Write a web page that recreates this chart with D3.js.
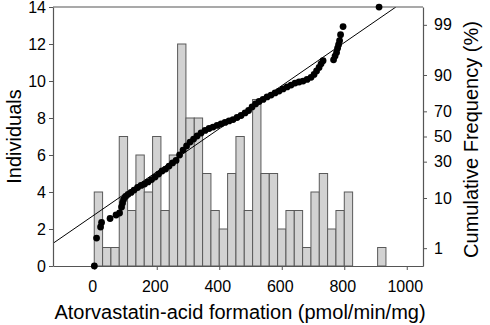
<!DOCTYPE html>
<html>
    <head>
        <meta charset="UTF-8"/>
        <style>
            body { margin: 0; background: #fff; }
            text { font-family: "Liberation Sans", Arial, sans-serif; fill: #000; }
        </style>
    </head>
    <body>
        <script src="https://d3js.org/d3.v7.min.js" type="text/javascript"></script>
        <script>
            // histogram: counts per bin, bins start at 0 and are binWidth wide
            var binStart = 0;
            var binWidth = 26.67;
            var counts = [4, 1, 1, 7, 3, 6, 4, 7, 3, 6, 12, 8, 8, 5, 3, 2, 5, 7, 3, 9,
                          5, 5, 2, 3, 3, 1, 4, 5, 2, 3, 4, 0, 0, 0, 1];

            // cumulative frequency points: activity and cumulative %
            var cumX = [0.3, 7.4, 20.2, 23.4, 50.6, 69.8, 81, 87.4, 90.6, 93.8,
                        100.2, 108.2, 117.8, 127.4, 138.6, 149.8, 161, 172.2, 183.4, 194.6,
                        205.8, 217, 228.2, 239.4, 250.6, 261.8, 273, 284.2, 295.4, 306.6,
                        317.8, 329, 341.8, 354.6, 367.4, 380.2, 393, 405.8, 418.6, 431.4,
                        444.2, 457, 469.8, 482.6, 493.8, 505, 516.2, 527.4, 540.2, 553,
                        565.8, 578.6, 591.4, 604.2, 617, 629.8, 642.6, 655.4, 668.2, 681,
                        693.8, 703.4, 711.4, 719.4, 725.8, 732.2, 765.8, 770.6, 775.4, 778.6,
                        781.8, 785, 788.2, 796.2, 911.4];
            var cumPct = [0.35, 1.72, 2.97, 3.66, 4.38, 5.10, 5.55, 7.09, 8.30, 9.47,
                          10.6, 11.4, 12.2, 13.2, 14.4, 15.4, 16.1, 17.2, 18.5, 19.9,
                          21.7, 23.6, 24.9, 26.9, 29.1, 30.9, 35.0, 38.9, 42.2, 45.4,
                          47.9, 50.4, 52.9, 55.0, 56.6, 57.8, 59.1, 60.3, 61.5, 62.7,
                          63.8, 65.4, 66.9, 68.8, 70.6, 73.1, 75.1, 76.7, 78.0, 79.5,
                          80.6, 81.8, 82.8, 83.9, 84.9, 85.8, 86.7, 87.2, 87.6, 88.3,
                          89.1, 90.2, 91.4, 92.5, 93.5, 94.3, 94.5, 95.3, 96.0, 96.7,
                          97.2, 97.7, 98.3, 98.9, 99.65];

            // fitted normal line, two end points (activity, cumulative %)
            var fitX = [-132, 965];
            var fitPct = [1.30, 99.65];

            var xTicks = [0, 200, 400, 600, 800, 1000];
            var yTicks = [0, 2, 4, 6, 8, 10, 12, 14];
            var pTicks = [1, 10, 30, 50, 70, 90, 99];

            var width = 490;
            var height = 325;
            var plotL = 53, plotR = 423, plotT = 7, plotB = 266;

            // inverse normal cdf (Acklam)
            function probit(p) {
                var a = [-39.69683028665376, 220.9460984245205, -275.9285104469687, 138.3577518672690, -30.66479806614716, 2.506628277459239];
                var b = [-54.47609879822406, 161.5858368580409, -155.6989798598866, 66.80131188771972, -13.28068155288572];
                var c = [-0.007784894002430293, -0.3223964580411365, -2.400758277161838, -2.549732539343734, 4.374664141464968, 2.938163982698783];
                var d = [0.007784695709041462, 0.3224671290700398, 2.445134137142996, 3.754408661907416];
                var q, r;
                if (p < 0.02425) {
                    q = Math.sqrt(-2 * Math.log(p));
                    return (((((c[0]*q+c[1])*q+c[2])*q+c[3])*q+c[4])*q+c[5]) / ((((d[0]*q+d[1])*q+d[2])*q+d[3])*q+1);
                }
                if (p > 1 - 0.02425) {
                    q = Math.sqrt(-2 * Math.log(1 - p));
                    return -(((((c[0]*q+c[1])*q+c[2])*q+c[3])*q+c[4])*q+c[5]) / ((((d[0]*q+d[1])*q+d[2])*q+d[3])*q+1);
                }
                q = p - 0.5; r = q * q;
                return (((((a[0]*r+a[1])*r+a[2])*r+a[3])*r+a[4])*r+a[5])*q / (((((b[0]*r+b[1])*r+b[2])*r+b[3])*r+b[4])*r+1);
            }

            var svg = d3.select("body")
                .append("svg")
                .attr("width", width)
                .attr("height", height);

            var xScale = d3.scaleLinear().domain([-132, 1052]).range([plotL, plotR]);
            var yScale = d3.scaleLinear().domain([0, 14]).range([plotB, plotT]);
            var zScale = d3.scaleLinear().domain([-2.698, 2.698]).range([plotB, plotT]);
            function pScale(pct) { return zScale(probit(pct / 100)); }

            svg.append("clipPath").attr("id", "plot")
                .append("rect")
                .attr("x", plotL).attr("y", plotT)
                .attr("width", plotR - plotL).attr("height", plotB - plotT);

            // bars
            svg.append("g").selectAll("rect")
                .data(counts.map(function(c, i) { return {c: c, i: i}; }).filter(function(d) { return d.c > 0; }))
                .enter()
                .append("rect")
                .attr("x", function(d) { return xScale(binStart + d.i * binWidth); })
                .attr("y", function(d) { return yScale(d.c); })
                .attr("width", function(d) { return xScale(binStart + (d.i + 1) * binWidth) - xScale(binStart + d.i * binWidth); })
                .attr("height", function(d) { return yScale(0) - yScale(d.c); })
                .attr("fill", "#d2d2d2")
                .attr("stroke", "#5a5a5a")
                .attr("stroke-width", 1);

            // fitted line
            svg.append("line")
                .attr("clip-path", "url(#plot)")
                .attr("x1", xScale(fitX[0])).attr("y1", pScale(fitPct[0]))
                .attr("x2", xScale(fitX[1])).attr("y2", pScale(fitPct[1]))
                .attr("stroke", "#000")
                .attr("stroke-width", 1);

            // frame top
            svg.append("path")
                .attr("d", "M" + plotL + "," + plotT + "H" + plotR)
                .attr("stroke", "#555").attr("stroke-width", 1.2).attr("fill", "none");

            var gx = svg.append("g")
                .attr("transform", "translate(0," + plotB + ")")
                .call(d3.axisBottom(xScale).tickValues(xTicks).tickFormat(d3.format("d"))
                    .tickSize(4).tickSizeOuter(0).tickPadding(11));
            var gy = svg.append("g")
                .attr("transform", "translate(" + plotL + ",0)")
                .call(d3.axisLeft(yScale).tickValues(yTicks).tickSize(4).tickSizeOuter(0).tickPadding(3));
            var gp = svg.append("g")
                .attr("transform", "translate(" + plotR + ",0)")
                .call(d3.axisRight(zScale).tickValues(pTicks.map(function(p) { return probit(p / 100); }))
                    .tickFormat(function(d, i) { return pTicks[i]; })
                    .tickSize(4).tickSizeOuter(0).tickPadding(7));

            [gx, gy, gp].forEach(function(g) {
                g.select(".domain").attr("stroke", "#555").attr("stroke-width", 1.2);
                g.selectAll(".tick line").attr("stroke", "#555");
                g.selectAll(".tick text")
                    .attr("font-family", "'Liberation Sans', Arial, sans-serif")
                    .attr("font-size", 16).attr("fill", "#000");
            });
            gx.selectAll(".tick text").attr("dx", -2);

            // dots
            svg.append("g").selectAll("circle")
                .data(cumX)
                .enter()
                .append("circle")
                .attr("cx", function(d) { return xScale(d); })
                .attr("cy", function(d, i) { return pScale(cumPct[i]); })
                .attr("r", 3.4)
                .attr("fill", "#000");

            // titles
            svg.append("text")
                .attr("x", (plotL + plotR) / 2 + 2)
                .attr("y", 319)
                .attr("text-anchor", "middle")
                .attr("font-size", 20)
                .text("Atorvastatin-acid formation (pmol/min/mg)");
            svg.append("text")
                .attr("transform", "translate(21," + ((plotT + plotB) / 2) + ") rotate(-90)")
                .attr("text-anchor", "middle")
                .attr("font-size", 20)
                .text("Individuals");
            svg.append("text")
                .attr("transform", "translate(478," + ((plotT + plotB) / 2 + 3) + ") rotate(-90)")
                .attr("text-anchor", "middle")
                .attr("font-size", 20)
                .text("Cumulative Frequency (%)");
        </script>
    </body>
</html>
